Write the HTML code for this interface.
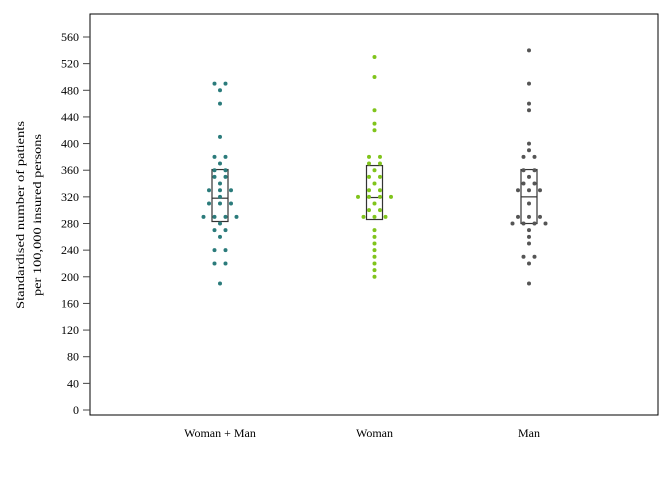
<!DOCTYPE html>
<html><head><meta charset="utf-8"><style>
body{margin:0;background:#fff;}
svg text{font-family:"Liberation Serif",serif;font-size:12px;fill:#000;}
</style></head><body>
<svg id="chart" width="672" height="480" xmlns="http://www.w3.org/2000/svg">
<rect x="0" y="0" width="672" height="480" fill="#fff"/>
<g id="axes"></g><g id="marks"></g>
</svg>
<script>
const categories = ["Woman + Man", "Woman", "Man"];
const colors = ["#2b7b7b", "#80c41c", "#555555"];
const yTicks = [0,40,80,120,160,200,240,280,320,360,400,440,480,520,560];
const seriesWomanMan = [490,490,480,460,410,380,380,370,360,360,350,350,340,330,330,330,320,310,310,310,290,290,290,290,280,270,270,260,240,240,220,220,190];
const seriesWoman = [530,500,450,430,420,380,380,370,370,360,350,350,340,330,330,320,320,320,320,310,300,300,290,290,290,270,260,250,240,230,220,210,200];
const seriesMan = [540,490,460,450,400,390,380,380,360,360,350,340,340,330,330,330,310,290,290,290,280,280,280,280,270,260,250,230,230,220,190];
const boxTop = [361, 367, 361];
const boxMedian = [318, 319, 320];
const boxBottom = [283, 286, 280];
const series = [seriesWomanMan, seriesWoman, seriesMan];

const NS = "http://www.w3.org/2000/svg";
const L = 90, R = 658, T = 14, B = 415;
function yScale(v){ return 410 - v * (373/560); }
function xScale(i){ return 220 + i * 154.5; }
function mk(tag, attrs, parent){ const e = document.createElementNS(NS, tag); for (const k in attrs) e.setAttribute(k, attrs[k]); parent.appendChild(e); return e; }
const axes = document.getElementById('axes'), marks = document.getElementById('marks');

const frame = mk('rect', {x:L, y:T, width:R-L, height:B-T, fill:'none', stroke:'#000', 'stroke-width':1}, axes);


yTicks.forEach(v => {
  const y = yScale(v);
  const t = mk('line', {x1:L-7, x2:L, y1:y, y2:y, stroke:'#444'}, axes);
  
  
  const lb = mk('text', {x:L-11, y:y+4, 'text-anchor':'end'}, axes);
  lb.textContent = v;
  
  
});
categories.forEach((c, i) => {
  const lb = mk('text', {x:xScale(i), y:437, 'text-anchor':'middle', 'font-size':'12.5'}, axes);
  lb.textContent = c;
  
  
});
const yt = mk('text', {transform:'translate(24,215) rotate(-90)', 'text-anchor':'middle'}, axes);


const t1 = mk('tspan', {x:0, y:0, textLength:188, lengthAdjust:'spacingAndGlyphs'}, yt); t1.textContent = 'Standardised number of patients';
const t2 = mk('tspan', {x:0, y:17, textLength:162, lengthAdjust:'spacingAndGlyphs'}, yt); t2.textContent = 'per 100,000 insured persons';

series.forEach((vals, i) => {
  const cx = xScale(i);
  const bx = mk('rect', {x:cx-8, y:yScale(boxTop[i]), width:16, height:yScale(boxBottom[i])-yScale(boxTop[i]), fill:'none', stroke:'#333', 'stroke-width':1.2}, marks);
  
  
  const md = mk('line', {x1:cx-8, x2:cx+8, y1:yScale(boxMedian[i]), y2:yScale(boxMedian[i]), stroke:'#333', 'stroke-width':1.2}, marks);
  
  
  const bins = {};
  vals.forEach(v => { bins[v] = (bins[v] || 0) + 1; });
  Object.keys(bins).forEach(k => {
    const n = bins[k];
    for (let j = 0; j < n; j++) {
      const d = mk('circle', {cx:cx + (j - (n-1)/2) * 11, cy:yScale(+k), r:2, fill:colors[i]}, marks);
      
      
    }
  });
});
</script>
</body></html>
